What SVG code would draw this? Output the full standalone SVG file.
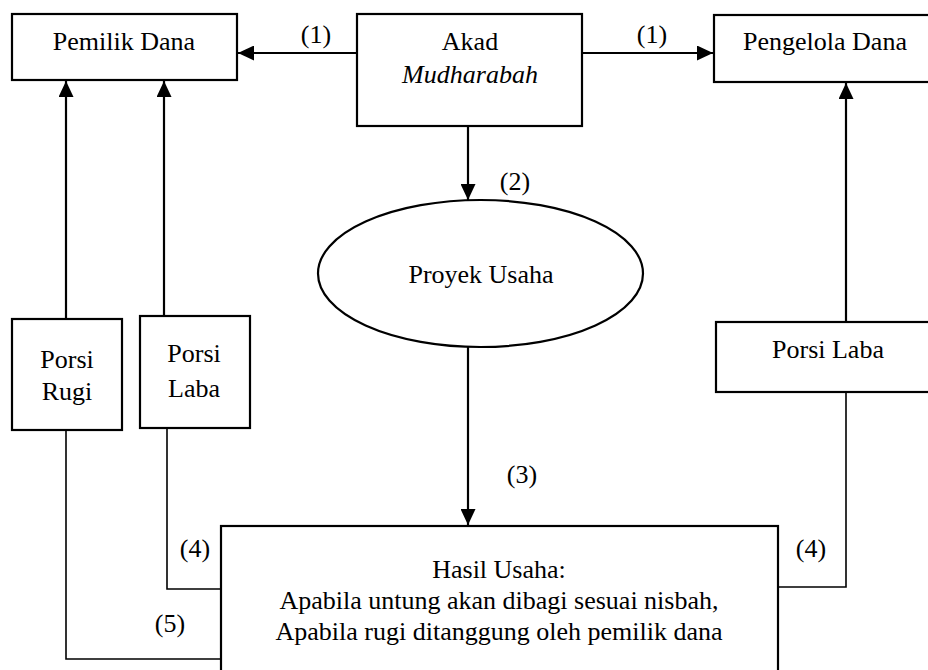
<svg xmlns="http://www.w3.org/2000/svg" width="928" height="670" viewBox="0 0 928 670">
<style>
text{font-family:"Liberation Serif","Times New Roman",serif;font-size:26px;fill:#000;text-anchor:middle}
.box{fill:#fff;stroke:#000;stroke-width:2.2}
.arr{fill:none;stroke:#000;stroke-width:2.2}
.thin{fill:none;stroke:#000;stroke-width:1.6}
</style>
<defs>
<marker id="ah" markerUnits="userSpaceOnUse" markerWidth="16" markerHeight="15" refX="16" refY="7.5" orient="auto">
<path d="M0,0 L16,7.5 L0,15 z" fill="#000"/>
</marker>
</defs>
<rect width="928" height="670" fill="#fff"/>
<g id="connectors">
<line class="arr" x1="357" y1="53" x2="238" y2="53" marker-end="url(#ah)"/>
<line class="arr" x1="582" y1="53" x2="713" y2="53" marker-end="url(#ah)"/>
<line class="arr" x1="468" y1="126" x2="468" y2="200" marker-end="url(#ah)"/>
<line class="arr" x1="468" y1="347" x2="468" y2="525" marker-end="url(#ah)"/>
<line class="arr" x1="66" y1="319" x2="66" y2="81" marker-end="url(#ah)"/>
<line class="arr" x1="164" y1="316" x2="164" y2="81" marker-end="url(#ah)"/>
<line class="arr" x1="846" y1="322" x2="846" y2="83" marker-end="url(#ah)"/>
<polyline class="thin" points="167,428 167,589 221,589"/>
<polyline class="thin" points="66,430 66,659 221,659"/>
<polyline class="thin" points="846,392 846,587 778,587"/>
<text x="316" y="43">(1)</text>
<text x="652" y="43">(1)</text>
<text x="515" y="190">(2)</text>
<text x="522" y="483">(3)</text>
<text x="195" y="557">(4)</text>
<text x="811" y="557">(4)</text>
<text x="170" y="632">(5)</text>
</g>
<g id="pemilik-dana">
<rect class="box" x="12" y="14" width="225" height="66"/>
<text x="124" y="50">Pemilik Dana</text>
</g>
<g id="akad">
<rect class="box" x="357" y="14" width="225" height="112"/>
<text x="470" y="50">Akad</text>
<text x="470" y="83" font-style="italic">Mudharabah</text>
</g>
<g id="pengelola-dana">
<rect class="box" x="714" y="15" width="225" height="67"/>
<text x="825" y="50">Pengelola Dana</text>
</g>
<g id="proyek-usaha">
<ellipse class="box" cx="480.5" cy="273.5" rx="162.5" ry="73.5"/>
<text x="481" y="283">Proyek Usaha</text>
</g>
<g id="porsi-rugi">
<rect class="box" x="12" y="319" width="110" height="111"/>
<text x="67" y="368">Porsi</text>
<text x="67" y="400">Rugi</text>
</g>
<g id="porsi-laba-kiri">
<rect class="box" x="140" y="316" width="110" height="112"/>
<text x="194" y="362">Porsi</text>
<text x="194" y="397">Laba</text>
</g>
<g id="porsi-laba-kanan">
<rect class="box" x="716" y="322" width="225" height="70"/>
<text x="828" y="358">Porsi Laba</text>
</g>
<g id="hasil-usaha">
<rect class="box" x="221" y="526" width="557" height="160"/>
<text x="499" y="578">Hasil Usaha:</text>
<text x="499" y="609">Apabila untung akan dibagi sesuai nisbah,</text>
<text x="499" y="640">Apabila rugi ditanggung oleh pemilik dana</text>
</g>
</svg>
